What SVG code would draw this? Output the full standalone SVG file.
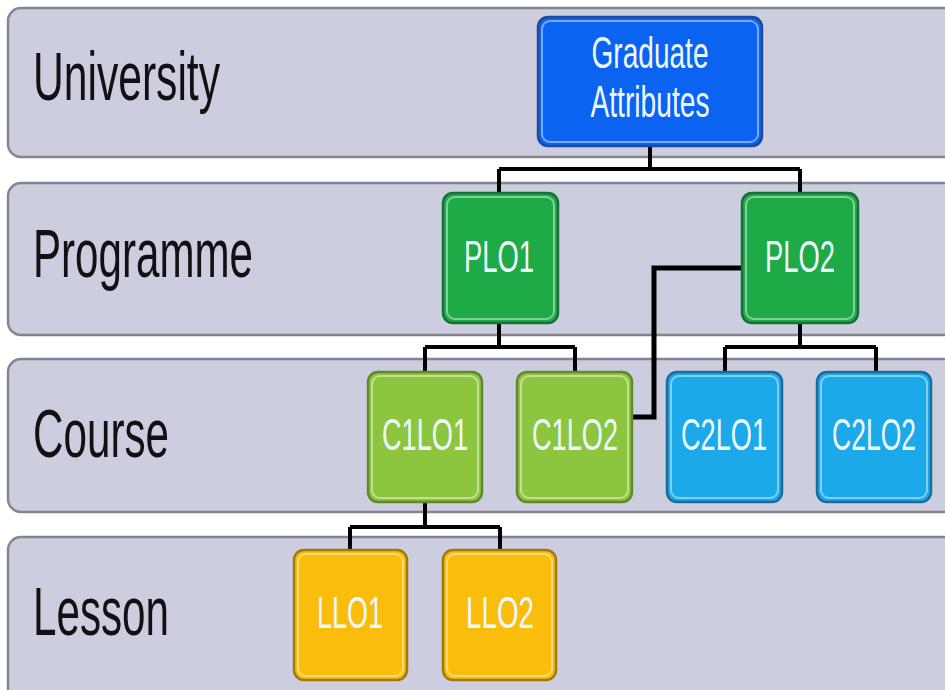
<svg xmlns="http://www.w3.org/2000/svg" width="945" height="690" viewBox="0 0 945 690">
<defs>
<style>
.band{fill:#cdcde0;stroke:#85858f;stroke-width:2.5}
.lbl{font-family:"Liberation Sans",Arial,sans-serif;font-size:68px;fill:#111}
.nt{font-family:"Liberation Sans",Arial,sans-serif;font-size:44px;fill:#eef8ff;text-anchor:middle}
.node{stroke-width:2.5}
.hl{fill:none;stroke:#ffffff;stroke-opacity:0.45;stroke-width:2}
.blue{fill:#0b63f2;stroke:#1d4a9a}
.green{fill:#1eaa47;stroke:#17703a}
.lgreen{fill:#8cc63f;stroke:#5f8a2a}
.cyan{fill:#1ba9ea;stroke:#1a6c9c}
.orange{fill:#fbbd0b;stroke:#a07a10}
.conn{fill:none;stroke:#000;stroke-width:4}
</style>
</defs>
<rect width="945" height="690" fill="#ffffff"/>
<g id="bands">
<rect class="band" x="8" y="8" width="960" height="149" rx="13"/>
<rect class="band" x="8" y="183" width="960" height="152" rx="13"/>
<rect class="band" x="8" y="359" width="960" height="153" rx="13"/>
<rect class="band" x="8" y="537" width="960" height="170" rx="13"/>
<text class="lbl" x="33" y="100" textLength="187" lengthAdjust="spacingAndGlyphs">University</text>
<text class="lbl" x="33" y="277" textLength="220" lengthAdjust="spacingAndGlyphs">Programme</text>
<text class="lbl" x="33" y="457" textLength="136" lengthAdjust="spacingAndGlyphs">Course</text>
<text class="lbl" x="33" y="635" textLength="136" lengthAdjust="spacingAndGlyphs">Lesson</text>
</g>
<g id="connectors">
<path class="conn" d="M650 146 V169 M499 169 H800 M499 169 V193 M800 169 V193"/>
<path class="conn" d="M499 323 V347 M425 347 H575 M425 347 V372 M575 347 V372"/>
<path class="conn" d="M800 323 V347 M725 347 H876 M725 347 V372 M876 347 V372"/>
<path class="conn" d="M425 502 V527 M350 527 H500 M350 527 V550 M500 527 V550"/>
<path class="conn" style="stroke-width:5" d="M742 268 H654 V417 H633"/>
</g>
<g id="node-ga">
<rect class="node blue" x="538" y="17" width="224" height="129" rx="10"/>
<rect class="hl" x="542" y="21" width="216" height="121" rx="8"/>
<text class="nt" x="650" y="68" textLength="117" lengthAdjust="spacingAndGlyphs">Graduate</text>
<text class="nt" x="650" y="117" textLength="119" lengthAdjust="spacingAndGlyphs">Attributes</text>
</g>
<g id="node-plo1">
<rect class="node green" x="443" y="193" width="115" height="130" rx="10"/>
<rect class="hl" x="447" y="197" width="107" height="122" rx="8"/>
<text class="nt" x="499" y="272" textLength="70" lengthAdjust="spacingAndGlyphs">PLO1</text>
</g>
<g id="node-plo2">
<rect class="node green" x="742" y="193" width="116" height="130" rx="10"/>
<rect class="hl" x="746" y="197" width="108" height="122" rx="8"/>
<text class="nt" x="800" y="272" textLength="70" lengthAdjust="spacingAndGlyphs">PLO2</text>
</g>
<g id="node-c1lo1">
<rect class="node lgreen" x="368" y="372" width="114" height="130" rx="10"/>
<rect class="hl" x="372" y="376" width="106" height="122" rx="8"/>
<text class="nt" x="425" y="450" textLength="86" lengthAdjust="spacingAndGlyphs">C1LO1</text>
</g>
<g id="node-c1lo2">
<rect class="node lgreen" x="517" y="372" width="115" height="130" rx="10"/>
<rect class="hl" x="521" y="376" width="107" height="122" rx="8"/>
<text class="nt" x="575" y="450" textLength="86" lengthAdjust="spacingAndGlyphs">C1LO2</text>
</g>
<g id="node-c2lo1">
<rect class="node cyan" x="667" y="372" width="115" height="130" rx="10"/>
<rect class="hl" x="671" y="376" width="107" height="122" rx="8"/>
<text class="nt" x="724" y="450" textLength="86" lengthAdjust="spacingAndGlyphs">C2LO1</text>
</g>
<g id="node-c2lo2">
<rect class="node cyan" x="817" y="372" width="114" height="130" rx="10"/>
<rect class="hl" x="821" y="376" width="106" height="122" rx="8"/>
<text class="nt" x="874" y="450" textLength="84" lengthAdjust="spacingAndGlyphs">C2LO2</text>
</g>
<g id="node-llo1">
<rect class="node orange" x="294" y="550" width="113" height="130" rx="10"/>
<rect class="hl" x="298" y="554" width="105" height="122" rx="8"/>
<text class="nt" x="350" y="628" textLength="66" lengthAdjust="spacingAndGlyphs">LLO1</text>
</g>
<g id="node-llo2">
<rect class="node orange" x="443" y="550" width="113" height="130" rx="10"/>
<rect class="hl" x="447" y="554" width="105" height="122" rx="8"/>
<text class="nt" x="500" y="628" textLength="68" lengthAdjust="spacingAndGlyphs">LLO2</text>
</g>
</svg>
